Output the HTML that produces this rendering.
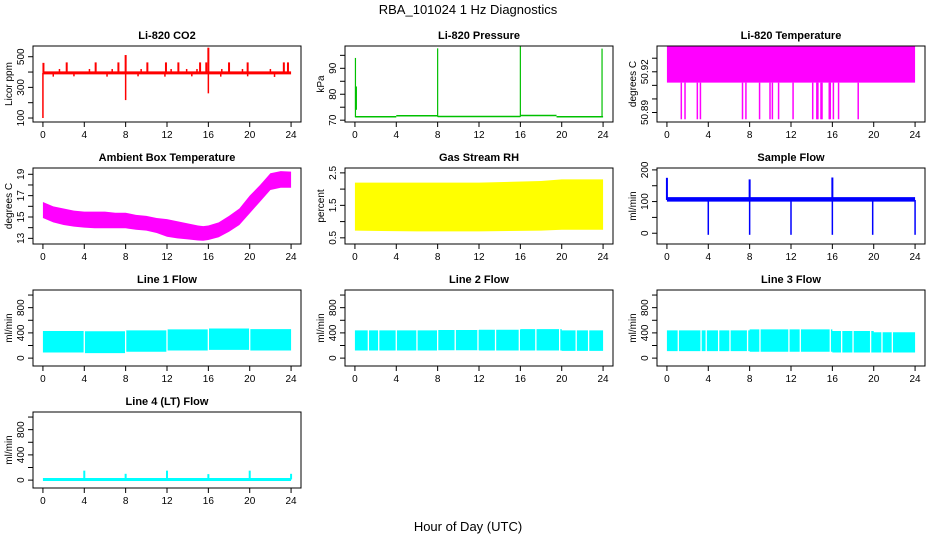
<!DOCTYPE html>
<html><head><meta charset="utf-8"><style>
body{margin:0;background:#fff}
svg{display:block;font-family:"Liberation Sans",sans-serif}
</style></head><body>
<svg id="c" width="936" height="540" viewBox="0 0 936 540">
<text x="468" y="14" font-size="13" text-anchor="middle">RBA_101024  1 Hz Diagnostics</text>
<text x="468" y="531" font-size="13" text-anchor="middle">Hour of Day (UTC)</text>
</svg>
<script>
// ---- data (hours of day / values) ----
const xTicks=[0,4,8,12,16,20,24];
// CO2
const co2Base=395;
const co2SpikeT=[2.3,5.1,7.3,10.1,11.9,13.1,15.2,15.8,18,19.8,23.3,23.7,0.05,8,16];
const co2SpikeV=[463,463,463,463,463,463,463,463,463,463,463,463,460,511,559];
const co2DipT=[0,8,16,1.0,3.0,6.2,9.2,11.8,14.4,17.2,19.8,22.4];
const co2DipV=[100,217,261,370,372,370,372,370,372,370,372,368];
const co2SmallT=[1.6,4.5,6.7,9.5,12.4,13.9,14.9,17.3,19.3,22];
const co2SmallV=[420,420,420,420,420,420,420,420,420,420];
// Pressure
const presSegT=[0,4,8,16,19.5,24];
const presSegV=[71.3,71.7,71.4,71.8,71.3];
const presSpikeT=[0.05,8,16,23.9];
const presSpikeV=[94,97.7,98.5,97.6];
// Li-820 temperature
const ltLo=50.912, ltHi=50.939;
const ltDipT=[1.39,1.75,2.94,3.24,7.31,7.64,8.96,9.97,10.2,10.8,12.2,14.1,14.5,14.6,14.9,15.0,15.7,15.8,16.1,16.6,18.5];
const ltDipV=[50.885,50.885,50.885,50.885,50.885,50.885,50.885,50.885,50.885,50.885,50.885,50.885,50.885,50.885,50.885,50.885,50.885,50.885,50.885,50.885,50.885];
// Ambient box temperature
const ambT=[0,1,2,3,4,5,6,7,8,9,10,11,12,13,14,15,15.5,16,17,18,19,20,21,22,23,24];
const ambHi=[16.4,16.0,15.8,15.6,15.5,15.5,15.5,15.4,15.4,15.2,15.1,14.9,14.8,14.6,14.4,14.2,14.15,14.2,14.5,15.1,15.8,17.0,18.0,19.1,19.3,19.25];
const ambLo=[14.9,14.5,14.25,14.1,14.0,13.95,13.94,13.95,13.94,13.8,13.72,13.5,13.15,13.0,12.9,12.8,12.78,12.84,13.1,13.62,14.25,15.34,16.43,17.53,17.74,17.74];
// Gas stream RH
const rhT=[0,6,12,18,20,24];
const rhHi=[2.2,2.2,2.2,2.25,2.3,2.3];
const rhLo=[0.72,0.7,0.7,0.72,0.75,0.75];
// Sample flow
const sfBase=[100,114];
const sfDipT=[4,8,12,16,19.9,24];
const sfDipV=[-5,-5,-5,-5,-5,-5];
const sfSpikeT=[0,8,16];
const sfSpikeV=[175,170,176];
// Line flows (band segments)
const l1T=[0,4,8,12,16,20,24];
const l1Lo=[90,80,100,120,130,120];
const l1Hi=[430,425,440,455,470,460];
const l1Gaps=[4,8,12,16,20];
const l2T=[0,4,8,12,16,20,24];
const l2Lo=[120,120,125,120,120,115];
const l2Hi=[440,440,445,450,460,440];
const l2Gaps=[1.3,2.3,4,6,8,9.7,11.9,13.6,15.9,17.5,19.8,21.4,22.6];
const l3T=[0,4,8,12,16,20,24];
const l3Lo=[110,110,100,100,90,90];
const l3Hi=[440,440,455,455,430,410];
const l3Gaps=[1.1,3.3,3.8,5.0,6.1,7.8,9.0,11.8,12.9,15.8,16.9,18.0,19.7,20.8,21.8];
const l4Base=10;
const l4SpikeT=[4,8,12,16,20,24];
const l4SpikeV=[150,100,150,95,150,100];

const svg=document.getElementById('c');
const NS='http://www.w3.org/2000/svg';
function mk(tag,attrs,parent){const e=document.createElementNS(NS,tag);for(const k in attrs)e.setAttribute(k,attrs[k]);(parent||svg).appendChild(e);return e;}
const colL=[33,345,657], rowT=[46,168,290,412], W=268, H=76;

function panel(col,row,title,ylab,ymin,ymax,ticks,labels,name){
  const L=colL[col],T=rowT[row];
  const g=mk('g',{});
  
  
  const xs=t=>L+(t+0.96)/25.92*W;
  const ys=v=>T+H-(v-ymin)/(ymax-ymin)*H;
  const t=mk('text',{x:L+W/2,y:T-7,'font-size':11,'font-weight':'bold','text-anchor':'middle'},g);
  t.textContent=title;
  
  
  const yl=mk('text',{transform:`translate(${L-21},${T+H/2}) rotate(-90)`,'font-size':10,'text-anchor':'middle'},g);
  yl.textContent=ylab;
  
  
  // x axis
  xTicks.forEach(v=>{
    mk('line',{x1:xs(v),x2:xs(v),y1:T+H,y2:T+H+5,stroke:'#000'},g);
    const tx=mk('text',{x:xs(v),y:T+H+16,'font-size':10,'text-anchor':'middle'},g);
    tx.textContent=v;
    
    
  });
  // y axis
  ticks.forEach(v=>mk('line',{x1:L-5,x2:L,y1:ys(v),y2:ys(v),stroke:'#000'},g));
  labels.forEach(v=>{
    const tx=mk('text',{transform:`translate(${L-9},${ys(v)}) rotate(-90)`,'font-size':10,'text-anchor':'middle'},g);
    tx.textContent=v;
    
    
  });
  const clip='clip'+col+row;
  const cp=mk('clipPath',{id:clip},g);mk('rect',{x:L,y:T,width:W,height:H},cp);
  const plot=mk('g',{'clip-path':`url(#${clip})`},g);
  
  
  mk('rect',{x:L,y:T,width:W,height:H,fill:'none',stroke:'#000'},g);
  return {xs,ys,g:plot};
}
function band(p,T,Lo,Hi,col,step){
  let pts=[];
  if(step){for(let i=0;i<Lo.length;i++){pts.push([T[i],Hi[i]],[T[i+1],Hi[i]]);}
    for(let i=Lo.length-1;i>=0;i--){pts.push([T[i+1],Lo[i]],[T[i],Lo[i]]);}}
  else{for(let i=0;i<T.length;i++)pts.push([T[i],Hi[i]]);for(let i=T.length-1;i>=0;i--)pts.push([T[i],Lo[i]]);}
  const e=mk('polygon',{points:pts.map(q=>p.xs(q[0])+','+p.ys(q[1])).join(' '),fill:col},p.g);
  
  
}
function vlines(p,T,V,base,col,w){
  T.forEach((t,i)=>{const e=mk('line',{x1:p.xs(t),x2:p.xs(t),y1:p.ys(base),y2:p.ys(V[i]),stroke:col,'stroke-width':w||1.5},p.g);
    
    });
}
function hline(p,v,col,w){mk('line',{x1:p.xs(0),x2:p.xs(24),y1:p.ys(v),y2:p.ys(v),stroke:col,'stroke-width':w},p.g);}

// CO2
let p=panel(0,0,'Li-820 CO2','Licor ppm',74,570,[100,200,300,400,500],[100,300,500],'co2');
hline(p,co2Base,'#f00',3);
vlines(p,co2SpikeT,co2SpikeV,co2Base,'#f00',2);
vlines(p,co2DipT,co2DipV,co2Base,'#f00',1.5);
vlines(p,co2SmallT,co2SmallV,co2Base,'#f00',1.5);
// Pressure
p=panel(1,0,'Li-820 Pressure','kPa',69.3,98.6,[70,75,80,85,90,95],[70,80,90],'pressure');
presSegV.forEach((v,i)=>mk('line',{x1:p.xs(presSegT[i]),x2:p.xs(presSegT[i+1]),y1:p.ys(v),y2:p.ys(v),stroke:'#00c000','stroke-width':1.5},p.g));
vlines(p,presSpikeT,presSpikeV,71.3,'#00c000',1.2);
vlines(p,[0.1],[83],74,'#00c000',2);
// Li temp
p=panel(2,0,'Li-820 Temperature','degrees C',50.883,50.939,[50.89,50.90,50.91,50.92,50.93],['50.89','50.92'],'li820-temp');
band(p,[0,24],[ltLo,ltLo],[ltHi+0.01,ltHi+0.01],'#f0f',false);
vlines(p,ltDipT,ltDipV,ltLo,'#f0f',1.5);
// Ambient
p=panel(0,1,'Ambient Box Temperature','degrees C',12.47,19.59,[13,14,15,16,17,18,19],[13,15,17,19],'ambient-temp');
band(p,ambT,ambLo,ambHi,'#f0f',false);
// RH
p=panel(1,1,'Gas Stream RH','percent',0.31,2.65,[0.5,1,1.5,2,2.5],['0.5','1.5','2.5'],'gas-rh');
band(p,rhT,rhLo,rhHi,'#ff0',false);
// Sample flow
p=panel(2,1,'Sample Flow','ml/min',-34,206,[0,50,100,150,200],[0,100,200],'sample-flow');
band(p,[0,24],[sfBase[0],sfBase[0]],[sfBase[1],sfBase[1]],'#00f',false);
vlines(p,sfDipT,sfDipV,105,'#00f',1.5);
vlines(p,sfSpikeT,sfSpikeV,105,'#00f',2);
// Lines
const fT=[0,200,400,600,800,1000], fL=[0,400,800];
function flow(col,row,title,T,Lo,Hi,Gaps,name){
  const q=panel(col,row,title,'ml/min',-125,1080,fT,fL,name);
  band(q,T,Lo,Hi,'#0ff',true);
  Gaps.forEach(t=>{const e=mk('line',{x1:q.xs(t),x2:q.xs(t),y1:q.ys(60),y2:q.ys(500),stroke:'#fff','stroke-width':1.3},q.g);
    
    });
}
flow(0,2,'Line 1 Flow',l1T,l1Lo,l1Hi,l1Gaps,'line1-flow');
flow(1,2,'Line 2 Flow',l2T,l2Lo,l2Hi,l2Gaps,'line2-flow');
flow(2,2,'Line 3 Flow',l3T,l3Lo,l3Hi,l3Gaps,'line3-flow');
p=panel(0,3,'Line 4 (LT) Flow','ml/min',-125,1080,fT,fL,'line4-flow');
hline(p,l4Base,'#0ff',3);
vlines(p,l4SpikeT,l4SpikeV,l4Base,'#0ff',2);
</script>
</body></html>
